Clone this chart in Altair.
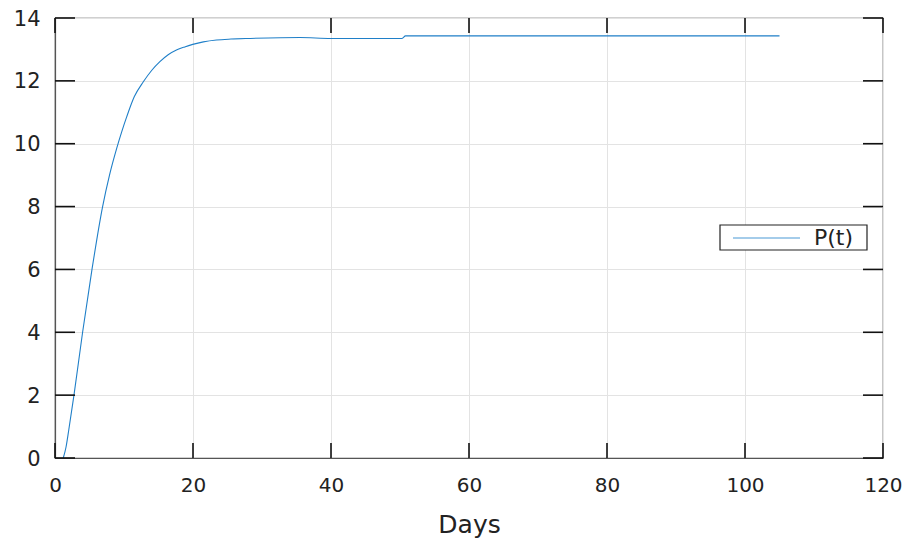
import altair as alt
import pandas as pd

# data
days = [1.2, 1.6, 2.0, 2.75, 4.0, 5.36, 6.9, 7.9, 8.94, 9.7, 10.4, 11.5, 12.8, 14.0, 15.2,
        16.4, 17.6, 18.8, 19.96, 21.5, 23.4, 25.5, 28.3, 35.5, 40.0, 45.0, 50.3, 50.8,
        60.0, 80.0, 105.0]
p_values = [0.0, 0.35, 0.9, 2.0, 4.0, 6.0, 8.0, 9.0, 9.85, 10.4, 10.86, 11.5, 11.97, 12.33,
            12.61, 12.83, 12.98, 13.08, 13.16, 13.24, 13.30, 13.33, 13.35, 13.38, 13.35,
            13.35, 13.35, 13.43, 13.43, 13.43, 13.43]
series_name = "P(t)"
x_ticks = [0, 20, 40, 60, 80, 100, 120]
y_ticks = [0, 2, 4, 6, 8, 10, 12, 14]

W, H = 828, 440
LINE_COLOR = "#1f7fc8"
LEGEND_LINE = "#4a9ad6"
FONT = "DejaVu Sans"

df = pd.DataFrame({"t": days, "P": p_values})
xt = pd.DataFrame({"v": x_ticks})
yt = pd.DataFrame({"v": y_ticks})
leg = pd.DataFrame({"name": [series_name]})

xscale = alt.Scale(domain=[0, 120], nice=False)
yscale = alt.Scale(domain=[0, 14], nice=False)

line = alt.Chart(df).mark_line(strokeWidth=1.1, color=LINE_COLOR, interpolate="monotone").encode(
    x=alt.X("t:Q", scale=xscale, title="Days",
            axis=alt.Axis(values=x_ticks, grid=True, ticks=False, labelPadding=17,
                          labelFlush=False, labelFontSize=20, titlePadding=17)),
    y=alt.Y("P:Q", scale=yscale, title=None,
            axis=alt.Axis(values=y_ticks, grid=True, ticks=False, labelPadding=15,
                          labelFlush=False, labelOffset=1)),
)

tick_color = "#111"
left_ticks = alt.Chart(yt).mark_rule(color=tick_color, strokeWidth=1.6).encode(
    y=alt.Y("v:Q", scale=yscale), x=alt.value(0), x2=alt.value(20))
right_ticks = alt.Chart(yt).mark_rule(color=tick_color, strokeWidth=1.6).encode(
    y=alt.Y("v:Q", scale=yscale), x=alt.value(W - 20), x2=alt.value(W))
bottom_ticks = alt.Chart(xt).mark_rule(color=tick_color, strokeWidth=1.6).encode(
    x=alt.X("v:Q", scale=xscale), y=alt.value(H), y2=alt.value(H - 15))
top_ticks = alt.Chart(xt).mark_rule(color=tick_color, strokeWidth=1.6).encode(
    x=alt.X("v:Q", scale=xscale), y=alt.value(0), y2=alt.value(15))

# legend box
leg_box = alt.Chart(leg).mark_rect(fill="white", stroke="#222", strokeWidth=1.2).encode(
    x=alt.value(665), x2=alt.value(812), y=alt.value(207), y2=alt.value(232))
leg_line = alt.Chart(leg).mark_rule(color=LEGEND_LINE, strokeWidth=1.2).encode(
    x=alt.value(678), x2=alt.value(745), y=alt.value(220))
leg_text = alt.Chart(leg).mark_text(align="left", baseline="middle", font=FONT,
                                    fontSize=22, color="#222").encode(
    x=alt.value(759), y=alt.value(220), text="name:N")

chart = alt.layer(line, left_ticks, right_ticks, bottom_ticks, top_ticks,
                  leg_box, leg_line, leg_text).properties(
    width=W, height=H,
    autosize=alt.AutoSizeParams(type="none"),
    padding={"left": 47, "top": 10, "right": 21, "bottom": 86},
).configure_view(
    stroke="#444", strokeWidth=1.2
).configure_axis(
    domainColor="#555", domainWidth=1.2,
    gridColor="#e3e3e3", gridWidth=1,
    labelFont=FONT, labelFontSize=21, labelColor="#222",
    titleFont=FONT, titleFontSize=25, titleFontWeight="normal", titleColor="#222",
)

chart.save("out.html", embed_options={"renderer": "svg", "actions": False})
